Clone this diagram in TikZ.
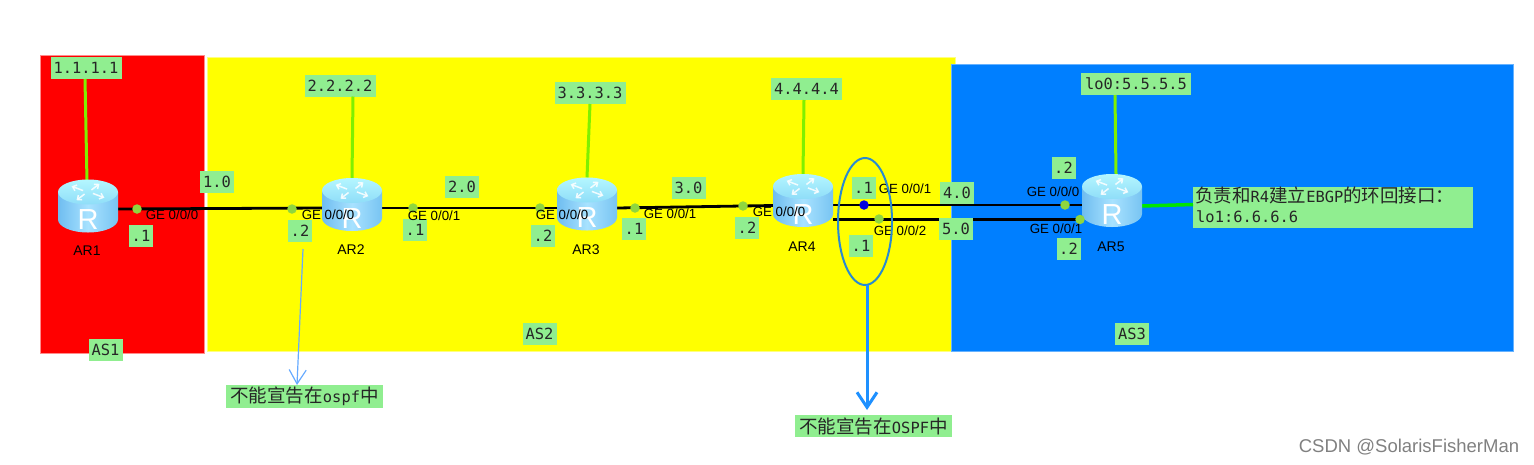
\documentclass[tikz,border=0pt]{standalone}
\usepackage{fontspec}
\setmainfont{Liberation Sans}
\newfontfamily\monof{DejaVu Sans Mono}
\newfontfamily\cjkf{Noto Sans CJK SC}
\usetikzlibrary{arrows.meta,shapes.geometric}
\definecolor{lblgreen}{HTML}{90EE90}
\definecolor{dotgreen}{HTML}{8FD63F}
\definecolor{lawn}{HTML}{7FF000}
\definecolor{brightgreen}{HTML}{00E600}
\definecolor{asred}{HTML}{FF0000}
\definecolor{asyellow}{HTML}{FFFF00}
\definecolor{asblue}{HTML}{007FFF}
\definecolor{ringblue}{HTML}{2A8AD0}
\definecolor{arrowblue}{HTML}{1E90FF}
\definecolor{thinblue}{HTML}{66AAFF}
\definecolor{dotblue}{HTML}{0000E0}
\newcommand{\mtxt}{\fontsize{15.4}{17}\monof}
\newcommand{\ctxt}{\fontsize{18.5}{21}\cjkf}
\newcommand{\mixm}[1]{{\fontsize{15.4}{17}\monof #1}}
\definecolor{routerL}{HTML}{6FBDF0}
\definecolor{routerM}{HTML}{A8E2FF}
\definecolor{routerR}{HTML}{78C4F2}
\definecolor{routerTL}{HTML}{B4F6FF}
\definecolor{routerTD}{HTML}{8FDDF8}
\newcommand{\rtr}[1]{%
  \begin{scope}[shift={(#1.center)}]
    \shade[left color=routerL,right color=routerR,middle color=routerM]
      (-30,-14) -- (-30,13.5) arc[start angle=180,end angle=0,x radius=30,y radius=13] -- (30,-14) -- cycle;
    \shade[top color=routerTL,bottom color=routerTD]
      (0,-14) ellipse[x radius=30,y radius=12.5];
    \foreach \a in {35,125,215,305}{
      \draw[white,line width=1.5pt,opacity=.85,-{Straight Barb[length=3.5pt,width=6pt]}]
        ([shift={(\a:6 and 2.5)}]0,-14) -- ([shift={(\a:20 and 10)}]0,-14);
    }
    \node[text=white,font=\fontsize{29}{29}\selectfont,inner sep=0pt] at (0,14) {R};
  \end{scope}}
\tikzset{
  x=1pt,y=-1pt,
  routerbox/.style={minimum width=60pt,minimum height=53pt,inner sep=0pt,outer sep=0pt},
  lbl/.style={fill=lblgreen,inner sep=0pt,outer sep=0pt,minimum height=22pt,font=\mtxt,text=black!85},
  lbla/.style={lbl,minimum width=24pt},
  lblb/.style={lbl,minimum width=34pt},
  lblc/.style={lbl,minimum width=71pt},
  ge/.style={font=\fontsize{13.3}{14}\selectfont,inner sep=0pt},
  rname/.style={font=\fontsize{14}{16}\selectfont,inner sep=0pt},
  port/.style={circle,fill=dotgreen,minimum size=9.5pt,inner sep=0pt},
  link/.style={black,line width=2.8pt},
  loop/.style={lawn,line width=3pt},
  notebox/.style={fill=lblgreen,inner sep=0pt,outer sep=0pt,minimum width=157pt,font=\ctxt,text=black!85},
}
\begin{document}
\begin{tikzpicture}
\useasboundingbox (0,0) rectangle (1534,464);
% AS regions
\fill[asred,draw=asred!45,line width=.8pt] (40,55) rectangle (204,353);
\fill[asyellow,draw=asyellow!50,line width=.8pt] (207,57) rectangle (955,351);
\fill[asblue,draw=asblue!60,line width=.8pt] (951,64) rectangle (1513,351);
% routers (anchors)
\node[routerbox] (ar1) at (88,206) {};
\node[routerbox] (ar2) at (352,204.5) {};
\node[routerbox] (ar3) at (587,204) {};
\node[routerbox] (ar4) at (803,200.5) {};
\node[routerbox] (ar5) at (1112,200.5) {};
% loopback labels
\node[lblc] (lo1) at (86,68) {1.1.1.1};
\node[lblc] (lo2) at (340,85.5) {2.2.2.2};
\node[lblc] (lo3) at (590,93) {3.3.3.3};
\node[lblc] (lo4) at (806.5,89) {4.4.4.4};
\node[lbl,minimum width=110pt] (lo5) at (1136,84) {lo0:5.5.5.5};
\node[fill=lblgreen,inner sep=0pt,outer sep=0pt,minimum width=280pt,minimum height=41pt] (lo6) at (1333,207.5) {};
\node[anchor=west,inner sep=0pt,font=\ctxt,text=black!85] (t6a) at (1195,195.5) {负责和\mixm{R4}建立\mixm{EBGP}的环回接口：};
\node[anchor=west,inner sep=0pt,font=\mtxt,text=black!85] (t6b) at (1196,217) {lo1:6.6.6.6};
% connectors
\draw[loop] ([xshift=-1pt]lo1.south) -- ([xshift=-1pt,yshift=-2pt]ar1.north);
\draw[loop] ([xshift=13pt]lo2.south) -- (ar2.north);
\draw[loop] (lo3.south) -- (ar3.north);
\draw[loop] ([xshift=-2.5pt]lo4.south) -- (ar4.north);
\draw[loop] ([xshift=-21pt]lo5.south) -- ([xshift=4pt]ar5.north);
\draw[brightgreen,line width=3.5pt] ([yshift=-5.5pt]ar5.east) -- ([yshift=3pt]lo6.west);
\draw[link] ([yshift=-3pt]ar1.east) -- ([yshift=-3.5pt]ar2.west);
\draw[link] ([yshift=-3.5pt]ar2.east) -- ([yshift=-4pt]ar3.west);
\draw[link] ([yshift=-4pt]ar3.east) -- ([yshift=-5pt]ar4.west);
\draw[link] ([yshift=-4.5pt]ar4.east) -- ([yshift=-4.5pt]ar5.west);
\draw[link] ([yshift=-19pt]ar4.east) -- ([yshift=-19pt]ar5.west);
% router drawings
\rtr{ar1}\rtr{ar2}\rtr{ar3}\rtr{ar4}\rtr{ar5}
% router names
\node[rname] (n1) at (87,251) {AR1};
\node[rname] (n2) at (351,250) {AR2};
\node[rname] (n3) at (586,250) {AR3};
\node[rname] (n4) at (802,247) {AR4};
\node[rname] (n5) at (1111,247) {AR5};
% ports
\node[port] (d1) at (137,209) {};
\node[port] (d2) at (292,209) {};
\node[port] (d3) at (413,208) {};
\node[port] (d4) at (540,208) {};
\node[port] (d5) at (635,208) {};
\node[port] (d6) at (743,206) {};
\node[port,fill=dotblue] (d7) at (864,205) {};
\node[port] (d8) at (879,219) {};
\node[port] (d9) at (1065,205) {};
\node[port] (d10) at (1080,219.5) {};
% subnet labels
\node[lblb] (s1) at (217,182) {1.0};
\node[lblb] (s2) at (462,187) {2.0};
\node[lblb] (s3) at (688.5,188) {3.0};
\node[lblb] (s4) at (957,193) {4.0};
\node[lblb] (s5) at (956,229) {5.0};
% address labels
\node[lbla] (a1) at (141,235.5) {.1};
\node[lbla] (a2) at (300,231) {.2};
\node[lbla] (a3) at (415,230) {.1};
\node[lbla] (a4) at (543,235.5) {.2};
\node[lbla] (a5) at (634,229) {.1};
\node[lbla] (a6) at (747,228) {.2};
\node[lbla] (a7) at (863.5,188) {.1};
\node[lbla] (a8) at (861,246) {.1};
\node[lbla] (a9) at (1063.5,168) {.2};
\node[lbla] (a10) at (1068.5,249) {.2};
% interface names
\node[ge] (g1) at (172,215) {GE 0/0/0};
\node[ge] (g2) at (328,215) {GE 0/0/0};
\node[ge] (g3) at (434,216) {GE 0/0/1};
\node[ge] (g4) at (562,215) {GE 0/0/0};
\node[ge] (g5) at (670,214) {GE 0/0/1};
\node[ge] (g6) at (779,212) {GE 0/0/0};
\node[ge] (g7) at (905,189) {GE 0/0/1};
\node[ge] (g8) at (900,231) {GE 0/0/2};
\node[ge] (g9) at (1053,192) {GE 0/0/0};
\node[ge] (g10) at (1056,229) {GE 0/0/1};
% AS labels
\node[lblb] (as1) at (105.5,350) {AS1};
\node[lblb] (as2) at (539.5,334) {AS2};
\node[lblb] (as3) at (1132,334) {AS3};
% notes
\node[notebox,minimum height=23pt] (note1) at (304.5,396.5) {不能宣告在\mixm{ospf}中};
\node[notebox,minimum height=22pt] (note2) at (873.5,426) {不能宣告在\mixm{OSPF}中};
% ring and arrows
\node[ellipse,draw=ringblue,line width=2pt,minimum width=54pt,minimum height=127pt,inner sep=0pt,outer sep=0pt] (ring) at (865,221.5) {};
\coordinate (free1) at (303,249);
\draw[thinblue,line width=1.2pt,-{Straight Barb[length=14pt,width=17pt]}] (free1) -- ([xshift=-7.5pt]note1.north);
\draw[arrowblue,line width=3pt,-{Straight Barb[length=15pt,width=20pt]}] ([xshift=2pt]ring.south) -- ([xshift=-6.5pt,yshift=5pt]note2.north);
% watermark
\node[inner sep=0pt,text=black!50,font=\fontsize{18.5}{20}\selectfont] (wm) at (1409,447) {CSDN @SolarisFisherMan};
\end{tikzpicture}
\end{document}
